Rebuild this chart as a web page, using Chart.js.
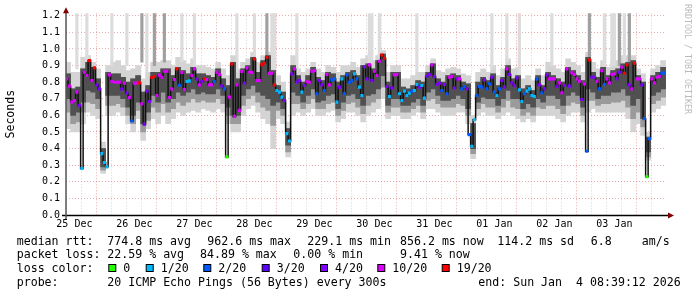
<!DOCTYPE html>
<html>
<head>
<meta charset="utf-8">
<script src="https://cdn.jsdelivr.net/npm/chart.js@4.4.1/dist/chart.umd.min.js"></script>
<style>
  html, body { margin: 0; padding: 0; background: #fff; }
  canvas { display: block; }
</style>
</head>
<body>
<canvas id="smoke" width="697" height="297"></canvas>
<script>
// hourly median rtt (s), first value is Dec 25 09:00
const medianRtt = [
  .82,.776,.68,.69,.74,.66,.28,.86,.84,.93,
  .81,.886,.784,.76,.37,.316,.29,.844,.806,.80,
  .80,.80,.758,.794,.734,.708,.566,.794,.796,.796,
  .67,.546,.746,.684,.828,.834,.72,.842,.83,.866,
  .866,.708,.758,.816,.88,.782,.858,.756,.804,.808,
  .84,.88,.818,.784,.804,.82,.816,.784,.784,.804,
  .86,.846,.778,.76,.35,.71,.91,.594,.784,.63,
  .864,.794,.886,.86,.86,.94,.81,.81,.906,.914,
  .95,.854,.854,.784,.75,.74,.71,.69,.49,.446,
  .85,.88,.80,.81,.74,.78,.804,.80,.866,.87,
  .73,.81,.784,.75,.846,.784,.814,.82,.68,.77,
  .82,.73,.844,.80,.81,.85,.82,.77,.72,.894,
  .82,.904,.81,.866,.84,.926,.964,.944,.774,.714,
  .766,.844,.846,.73,.69,.746,.72,.734,.746,.75,
  .786,.77,.78,.704,.836,.846,.904,.834,.786,.794,
  .75,.786,.73,.83,.834,.764,.82,.82,.76,.774,
  .76,.484,.414,.574,.72,.774,.77,.814,.76,.79,
  .83,.74,.72,.76,.81,.77,.88,.846,.796,.778,
  .826,.754,.684,.73,.746,.76,.72,.714,.82,.784,
  .736,.76,.844,.82,.82,.82,.774,.796,.736,.78,
  .88,.776,.856,.846,.82,.806,.696,.79,.384,.934,
  .83,.83,.806,.76,.87,.786,.82,.796,.846,.85,
  .82,.86,.89,.854,.904,.784,.76,.914,.82,.82,
  .784,.58,.23,.46,.82,.796,.83,.834,.854,.856
];
// lost pings out of 20, same hours
const lostPings = [
  10,10,10,10,10,4,1,10,10,19,
  10,19,4,4,1,1,1,10,10,10,
  10,10,4,10,4,10,2,10,10,19,
  10,4,4,4,19,19,10,10,10,10,
  10,10,10,10,19,2,10,10,1,1,
  10,10,4,10,4,19,10,10,10,2,
  10,10,4,2,0,10,19,10,10,10,
  10,4,10,10,10,19,10,10,19,19,
  19,10,10,19,1,1,1,4,1,1,
  4,10,4,4,1,4,10,10,10,10,
  2,4,4,2,10,10,2,2,1,4,
  1,2,2,2,2,1,2,1,1,4,
  4,10,4,10,10,10,19,19,4,1,
  4,10,10,1,1,1,1,1,2,1,
  1,4,1,1,4,4,10,4,4,4,
  2,4,2,10,10,4,4,10,2,2,
  4,2,1,1,2,2,2,4,2,2,
  4,2,1,2,4,4,10,4,4,4,
  4,1,1,2,1,1,1,1,2,4,
  2,4,4,10,10,10,4,10,10,4,
  10,4,10,10,10,10,4,10,2,19,
  4,4,10,2,10,2,10,10,10,10,
  4,4,10,19,19,4,10,19,10,10,
  4,2,0,2,10,10,10,10,2,2
];
// smoke, one value per 2 hours: lowest ping, edge of the mid band, dark core, highest ping
const smokeMin = [
  .52,.50,.50,.55,.62,.60,.58,.25,.60,.60,
  .62,.60,.55,.50,.58,.45,.52,.58,.55,.60,
  .55,.58,.62,.60,.62,.63,.62,.64,.63,.62,
  .64,.62,.55,.50,.50,.60,.64,.66,.62,.58,
  .55,.40,.58,.55,.35,.60,.62,.60,.62,.64,
  .60,.60,.62,.63,.56,.58,.62,.62,.60,.56,
  .60,.62,.64,.70,.58,.60,.60,.58,.58,.60,
  .62,.58,.64,.64,.62,.60,.60,.60,.62,.62,
  .55,.34,.60,.62,.60,.60,.58,.60,.62,.60,
  .58,.56,.58,.56,.60,.60,.60,.60,.58,.56,
  .60,.62,.62,.56,.62,.64,.62,.62,.62,.62,
  .62,.62,.58,.50,.55,.48,.33,.62,.64,.66
];
const smokeMid = [
  .62,.55,.56,.62,.68,.67,.64,.27,.66,.66,
  .67,.65,.60,.55,.63,.50,.57,.65,.62,.67,
  .62,.64,.68,.66,.68,.70,.68,.69,.68,.68,
  .70,.67,.60,.55,.55,.66,.70,.72,.68,.65,
  .63,.54,.63,.60,.38,.67,.67,.64,.67,.70,
  .64,.64,.67,.68,.60,.63,.67,.68,.65,.61,
  .66,.68,.70,.77,.62,.65,.65,.62,.62,.64,
  .66,.62,.69,.70,.67,.65,.65,.65,.67,.66,
  .60,.37,.64,.67,.65,.65,.62,.65,.69,.65,
  .64,.60,.62,.60,.65,.64,.66,.66,.64,.61,
  .66,.68,.67,.60,.69,.69,.66,.67,.67,.68,
  .68,.69,.65,.58,.62,.53,.35,.67,.69,.71
];
const smokeLo = [
  .70,.60,.62,.68,.75,.74,.70,.29,.72,.72,
  .72,.70,.65,.60,.68,.55,.62,.72,.68,.74,
  .68,.70,.74,.72,.74,.76,.73,.74,.73,.73,
  .76,.72,.65,.60,.60,.72,.76,.78,.74,.72,
  .70,.66,.68,.64,.42,.74,.72,.68,.72,.76,
  .68,.69,.72,.73,.64,.68,.72,.73,.70,.66,
  .72,.73,.76,.84,.66,.70,.70,.66,.66,.68,
  .70,.66,.74,.76,.72,.69,.69,.70,.72,.70,
  .64,.40,.68,.71,.70,.70,.66,.70,.75,.70,
  .70,.64,.67,.65,.70,.68,.72,.72,.70,.66,
  .72,.74,.72,.65,.76,.74,.70,.72,.72,.74,
  .74,.76,.72,.66,.70,.58,.38,.72,.74,.76
];
const smokeHi = [
  .85,.76,.77,.88,.92,.89,.82,.40,.86,.85,
  .85,.83,.80,.82,.84,.74,.78,.86,.86,.88,
  .88,.84,.89,.87,.85,.89,.85,.85,.84,.83,
  .88,.82,.78,.92,.82,.88,.90,.95,.86,.93,
  .96,.87,.78,.74,.52,.90,.84,.80,.84,.89,
  .83,.81,.86,.85,.80,.84,.86,.87,.84,.90,
  .91,.88,.93,.97,.80,.86,.86,.77,.76,.78,
  .81,.80,.86,.91,.82,.80,.84,.85,.84,.80,
  .79,.55,.80,.83,.81,.85,.78,.83,.90,.82,
  .84,.76,.78,.75,.84,.78,.86,.84,.82,.80,
  .89,.87,.84,.81,.95,.86,.83,.89,.84,.87,
  .88,.91,.92,.93,.84,.80,.47,.84,.86,.89
];
const smokeMax = [
  .92,.86,.86,.95,.96,.92,.88,.44,.90,.92,
  .93,.90,.87,.88,.90,.82,.86,.92,.92,.93,
  .93,.90,.95,.93,.91,.94,.90,.90,.89,.88,
  .92,.88,.84,.96,.88,.92,.94,.98,.92,.96,
  .98,.92,.84,.80,.56,.96,.88,.86,.88,.92,
  .88,.86,.90,.89,.86,.90,.90,.92,.89,.94,
  .96,.93,.96,.99,.86,.90,.90,.82,.82,.84,
  .86,.86,.90,.94,.87,.86,.88,.89,.88,.85,
  .84,.60,.86,.88,.86,.90,.84,.88,.94,.88,
  .89,.82,.84,.81,.88,.84,.92,.90,.88,.86,
  .94,.92,.90,.86,.98,.92,.88,.93,.89,.92,
  .93,.96,.96,.96,.88,.85,.50,.88,.90,.93
];
// single slow pings running off the top (hour index, lower end)
const paleSpikeAt   = [4,8,18,24,32,46,51,68,75,82,83,92,121,122,125,140,170,176,181,194,215,218,219,223];
const paleSpikeFrom = [.88,.92,.90,.90,.86,.92,.90,.86,.96,.88,.88,.86,.92,.92,.94,.86,.88,.92,.84,.90,.90,.90,.90,.92];
const greySpikeAt   = [30,35,39,80,209,221,225];
const greySpikeFrom = [.92,.90,.92,.96,.94,.90,.92];

const dayLabels = ['25 Dec','26 Dec','27 Dec','28 Dec','29 Dec','30 Dec','31 Dec','01 Jan','02 Jan','03 Jan'];
const lossSteps  = [0, 1, 2, 3, 4, 10, 19];
const lossColors = ['#26ff00','#00b8ff','#0059ff','#5e00ff','#7e00ff','#dd00ff','#ff0000'];

const firstHour = 9;          // hours after Dec 25 00:00
const viewStart = 8.65, viewEnd = 248.65;
const MONO = '"DejaVu Sans Mono", monospace';

function lossColor(n) {
  let c = lossColors[0];
  lossSteps.forEach((s, i) => { if (n >= s) c = lossColors[i]; });
  return c;
}

const hourly = medianRtt.map((v, j) => ({ x: firstHour + j, y: v }));
const twoHour = k => firstHour + 2 * k + 0.5;

const decor = {
  id: 'decor',
  afterDraw(chart) {
    const c = chart.ctx, a = chart.chartArea;
    c.save();
    // axes
    c.strokeStyle = '#000';
    c.lineWidth = 1.5;
    c.beginPath();
    c.moveTo(a.left - 4, a.bottom + 0.5); c.lineTo(a.right + 3, a.bottom + 0.5);
    c.stroke();
    c.strokeStyle = '#555';
    c.beginPath();
    c.moveTo(a.left, a.bottom + 4); c.lineTo(a.left, a.top - 2);
    c.stroke();
    c.fillStyle = '#7f0000';
    c.beginPath();
    c.moveTo(a.left - 3, a.top); c.lineTo(a.left + 3, a.top); c.lineTo(a.left, a.top - 6);
    c.closePath(); c.fill();
    c.beginPath();
    c.moveTo(a.right + 2, a.bottom - 2.5); c.lineTo(a.right + 2, a.bottom + 3.5); c.lineTo(a.right + 8, a.bottom + 0.5);
    c.closePath(); c.fill();

    // legend
    c.fillStyle = '#000';
    c.font = '11.6px ' + MONO;
    c.textBaseline = 'middle';
    c.textAlign = 'left';
    const rows = [
      [241.5, [[16.7, 'median rtt:'], [107.3, '774.8 ms avg'], [207.3, '962.6 ms max'], [307.3, '229.1 ms min'],
               [400, '856.2 ms now'], [497.3, '114.2 ms sd'], [590.7, '6.8'], [641.7, 'am/s']]],
      [255.3, [[16.7, 'packet loss:'], [107.3, '22.59 % avg'], [200, '84.89 % max'], [293.3, '0.00 % min'], [400, '9.41 % now']]],
      [268.5, [[16.7, 'loss color:']]],
      [283.0, [[16.7, 'probe:'], [107.3, '20 ICMP Echo Pings (56 Bytes) every 300s'], [478.3, 'end: Sun Jan  4 08:39:12 2026']]]
    ];
    rows.forEach(([y, items]) => items.forEach(([x, t]) => c.fillText(t, x, y)));
    const boxX = [108.3, 145.7, 203.3, 261.7, 320, 377.3, 441.7];
    lossSteps.forEach((s, i) => {
      c.fillStyle = lossColors[i];
      c.fillRect(boxX[i] + 0.5, 264.5, 7, 7);
      c.strokeStyle = '#000'; c.lineWidth = 1;
      c.strokeRect(boxX[i] + 0.5, 264.5, 7, 7);
      c.fillStyle = '#000';
      c.fillText(s === 0 ? '0' : s + '/20', boxX[i] + 15, 268.5);
    });

    // watermark
    c.translate(685, 4);
    c.rotate(Math.PI / 2);
    c.font = '8.3px ' + MONO;
    c.fillStyle = '#bbbbbb';
    c.textBaseline = 'alphabetic';
    c.fillText('RRDTOOL / TOBI OETIKER', 0, 0);
    c.restore();
  }
};

new Chart(document.getElementById('smoke'), {
  type: 'bar',
  data: {
    datasets: [
      {
        label: 'smoke',
        data: smokeMin.map((v, k) => ({ x: twoHour(k), y: [v, smokeMax[k]] })),
        backgroundColor: '#d4d4d4',
        barThickness: 5, stack: 's', order: 7
      },
      {
        label: 'pale spikes',
        data: paleSpikeAt.map((j, i) => ({ x: firstHour + j, y: [paleSpikeFrom[i], 1.3] })),
        backgroundColor: '#dcdcdc',
        barThickness: 2.5, stack: 's', order: 6
      },
      {
        label: 'grey spikes',
        data: greySpikeAt.map((j, i) => ({ x: firstHour + j, y: [greySpikeFrom[i], 1.3] })),
        backgroundColor: '#a0a0a0',
        barThickness: 2.5, stack: 's', order: 6
      },
      {
        label: 'smoke mid',
        data: smokeMid.map((v, k) => ({ x: twoHour(k), y: [v, smokeHi[k]] })),
        backgroundColor: '#9a9a9a',
        barThickness: 5, stack: 's', order: 5
      },
      {
        label: 'smoke core',
        data: smokeLo.map((v, k) => ({ x: twoHour(k), y: [v, smokeHi[k]] })),
        backgroundColor: '#505050',
        barThickness: 5, stack: 's', order: 4
      },
      {
        type: 'line',
        label: 'median',
        data: hourly,
        borderColor: '#111',
        borderWidth: 1.5,
        stepped: 'middle',
        pointRadius: 0,
        order: 2
      },
      {
        type: 'line',
        label: 'loss',
        data: hourly,
        showLine: false,
        pointStyle: 'rect',
        pointRadius: 2.2,
        pointBorderWidth: 0,
        pointBackgroundColor: lostPings.map(lossColor),
        order: 1
      }
    ]
  },
  options: {
    responsive: false,
    devicePixelRatio: 1,
    animation: false,
    events: [],
    layout: { padding: { left: 0, right: 31, top: 13.3, bottom: 0 } },
    plugins: { legend: { display: false }, tooltip: { enabled: false } },
    scales: {
      x: {
        type: 'linear',
        min: viewStart, max: viewEnd,
        offset: false,
        afterBuildTicks: s => {
          const t = [];
          for (let h = 12; h < viewEnd; h += 6) t.push({ value: h });
          s.ticks = t;
        },
        afterFit: s => { s.height = 82; },
        grid: {
          drawTicks: false,
          lineWidth: 1,
          color: ctx => ctx.tick && ctx.tick.value % 24 === 0 ? 'rgba(210,90,90,0.5)' : 'rgba(150,150,150,0.4)'
        },
        border: { display: false, dash: [1, 2] },
        ticks: {
          autoSkip: false, maxRotation: 0, minRotation: 0, padding: 3,
          color: '#000', font: { family: MONO, size: 10 },
          callback: v => v % 24 === 12 ? dayLabels[(v - 12) / 24] : ''
        }
      },
      y: {
        min: 0, max: 1.215,
        stacked: false,
        afterBuildTicks: s => {
          const t = [];
          for (let i = 0; i <= 12; i++) t.push({ value: i / 10 });
          s.ticks = t;
        },
        afterFit: s => { s.width = 66; },
        grid: { drawTicks: false, lineWidth: 1, color: 'rgba(210,90,90,0.5)' },
        border: { display: false, dash: [1, 2] },
        ticks: {
          autoSkip: false, padding: 6, color: '#000',
          font: { family: MONO, size: 10 },
          callback: v => v.toFixed(1)
        },
        title: {
          display: true, text: 'Seconds', color: '#000',
          font: { family: MONO, size: 11.6 },
          padding: { top: 4, bottom: 0 }
        }
      }
    }
  },
  plugins: [decor]
});
</script>
</body>
</html>
